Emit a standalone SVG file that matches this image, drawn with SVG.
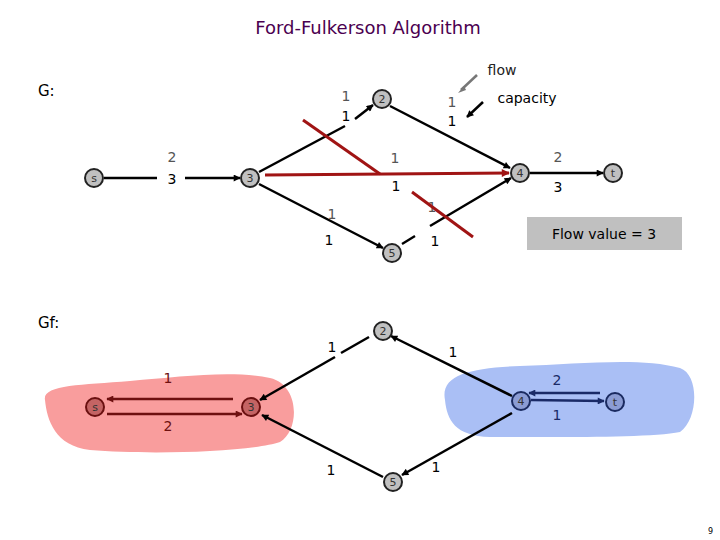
<svg xmlns="http://www.w3.org/2000/svg" width="720" height="540" viewBox="0 0 720 540">
<style>
text{font-family:"DejaVu Sans","Liberation Sans",sans-serif;}
.lbl{font-size:14px;text-anchor:middle;}
.g{fill:#555;}
.k{fill:#000;}
.nd{fill:#c0c0c0;stroke:#222;stroke-width:2;}
.ndr{fill:#c46464;stroke:#6a1010;stroke-width:2;}
.ndb{fill:#8b9cd4;stroke:#1a2a60;stroke-width:2;}
.nt{font-size:11px;text-anchor:middle;fill:#333;}
.e{stroke:#000;stroke-width:2.5;fill:none;}
.er{stroke:#a01414;stroke-width:3;fill:none;}
.ed{stroke:#6e1010;stroke-width:2.5;fill:none;}
.en{stroke:#1a2a66;stroke-width:2.5;fill:none;}
</style>
<defs>
<marker id="ak" viewBox="0 0 10 10" refX="9" refY="5" markerWidth="9" markerHeight="7" markerUnits="userSpaceOnUse" orient="auto"><path d="M0,0L10,5L0,10z" fill="#000"/></marker>
<marker id="ar" viewBox="0 0 10 10" refX="9" refY="5" markerWidth="10" markerHeight="8" markerUnits="userSpaceOnUse" orient="auto"><path d="M0,0L10,5L0,10z" fill="#a01414"/></marker>
<marker id="ad" viewBox="0 0 10 10" refX="9" refY="5" markerWidth="9" markerHeight="7" markerUnits="userSpaceOnUse" orient="auto"><path d="M0,0L10,5L0,10z" fill="#6e1010"/></marker>
<marker id="an" viewBox="0 0 10 10" refX="9" refY="5" markerWidth="9" markerHeight="7" markerUnits="userSpaceOnUse" orient="auto"><path d="M0,0L10,5L0,10z" fill="#1a2a66"/></marker>
</defs>
<rect width="720" height="540" fill="#fff"/>
<text x="368" y="34" font-size="18" text-anchor="middle" fill="#4b0050">Ford-Fulkerson Algorithm</text>
<text x="38" y="96" font-size="15" fill="#000">G:</text>
<text x="38" y="328" font-size="15" fill="#000">Gf:</text>
<text x="708" y="534" font-size="8" fill="#000">9</text>

<!-- blobs -->
<path d="M45,400 C42,385 80,385 130,381 C180,377 230,370 270,378 C300,385 300,430 280,442 C250,452 150,455 90,450 C55,446 47,420 45,400 Z" fill="#f99d9d"/>
<path d="M445,400 C440,375 470,368 520,366 C580,364 640,357 680,368 C700,375 698,420 680,432 C650,438 560,437 490,437 C455,436 447,420 445,400 Z" fill="#aabff5"/>

<g id="connectors">
<!-- top graph -->
<line class="e" x1="104" y1="178" x2="157" y2="178"/>
<line class="e" x1="185" y1="178" x2="240" y2="178" marker-end="url(#ak)"/>
<line class="e" x1="259" y1="172" x2="345" y2="126"/>
<line class="e" x1="355" y1="119" x2="373" y2="105" marker-end="url(#ak)"/>
<line class="e" x1="390" y1="106" x2="510" y2="168" marker-end="url(#ak)"/>
<line class="e" x1="259" y1="184" x2="383" y2="248" marker-end="url(#ak)"/>
<line class="e" x1="402" y1="244" x2="415" y2="236"/>
<line class="e" x1="430" y1="226" x2="511" y2="178" marker-end="url(#ak)"/>
<line class="e" x1="530" y1="173" x2="603" y2="173" marker-end="url(#ak)"/>
<line class="er" x1="265" y1="175" x2="509" y2="173" marker-end="url(#ar)"/>
<line class="er" x1="303" y1="120" x2="380" y2="174"/>
<line stroke="#777" stroke-width="2.5" x1="477" y1="75" x2="461" y2="90"/>
<path d="M464,86 L458,93 L466,90 z" fill="#777"/>
<line class="e" x1="483" y1="102" x2="467" y2="117" marker-end="url(#ak)"/>
<!-- Gf -->
<line class="ed" x1="233" y1="399" x2="107" y2="399" marker-end="url(#ad)"/>
<line class="ed" x1="107" y1="414" x2="242" y2="414" marker-end="url(#ad)"/>
<line class="e" x1="369" y1="337" x2="341" y2="353"/>
<line class="e" x1="335" y1="357" x2="260" y2="400" marker-end="url(#ak)"/>
<line class="e" x1="383" y1="477" x2="262" y2="415" marker-end="url(#ak)"/>
<line class="e" x1="512" y1="396" x2="391" y2="336" marker-end="url(#ak)"/>
<line class="e" x1="512" y1="413" x2="402" y2="475" marker-end="url(#ak)"/>
<line class="en" x1="600" y1="393" x2="529" y2="393" marker-end="url(#an)"/>
<line class="en" x1="531" y1="400" x2="604" y2="401" marker-end="url(#an)"/>
</g>

<!-- top labels -->
<text class="lbl g" x="172" y="162">2</text>
<text class="lbl k" x="172" y="184">3</text>
<text class="lbl g" x="346" y="101">1</text>
<text class="lbl k" x="346" y="121">1</text>
<text class="lbl g" x="452" y="107">1</text>
<text class="lbl k" x="452" y="126">1</text>
<text class="lbl g" x="395" y="163">1</text>
<text class="lbl k" x="396" y="191">1</text>
<text class="lbl g" x="332" y="219">1</text>
<text class="lbl k" x="329" y="245">1</text>
<text class="lbl g" x="432" y="212">1</text>
<line class="er" x1="412" y1="192" x2="473" y2="237"/>
<text class="lbl k" x="435" y="246">1</text>
<text class="lbl g" x="558" y="162">2</text>
<text class="lbl k" x="558" y="192">3</text>
<text x="502" y="75" font-size="14" text-anchor="middle" fill="#222">flow</text>
<text x="527" y="103" font-size="14" text-anchor="middle" fill="#000">capacity</text>

<g id="flowvalue">
<rect x="527" y="217" width="155" height="33" fill="#c0c0c0"/>
<text x="604" y="239" font-size="14" text-anchor="middle" fill="#000">Flow value = 3</text>
</g>

<!-- Gf labels -->
<text class="lbl" x="168" y="383" fill="#6e1010">1</text>
<text class="lbl" x="168" y="431" fill="#6e1010">2</text>
<text class="lbl k" x="332" y="352">1</text>
<text class="lbl k" x="331" y="475">1</text>
<text class="lbl k" x="453" y="357">1</text>
<text class="lbl k" x="436" y="472">1</text>
<text class="lbl" x="557" y="385" fill="#1a2a66">2</text>
<text class="lbl" x="557" y="420" fill="#1a2a66">1</text>

<!-- top nodes -->
<g id="G_s"><circle class="nd" cx="94" cy="178" r="9"/><text class="nt" x="94" y="182">s</text></g>
<g id="G_3"><circle class="nd" cx="250" cy="178" r="9"/><text class="nt" x="250" y="182">3</text></g>
<g id="G_2"><circle class="nd" cx="382" cy="99" r="9"/><text class="nt" x="382" y="103">2</text></g>
<g id="G_4"><circle class="nd" cx="520" cy="173" r="9"/><text class="nt" x="520" y="177">4</text></g>
<g id="G_t"><circle class="nd" cx="613" cy="173" r="9"/><text class="nt" x="613" y="177">t</text></g>
<g id="G_5"><circle class="nd" cx="392" cy="253" r="9"/><text class="nt" x="392" y="257">5</text></g>

<!-- Gf nodes -->
<g id="Gf_s"><circle class="ndr" cx="95" cy="407" r="9"/><text class="nt" x="95" y="411" fill="#5a1010">s</text></g>
<g id="Gf_3"><circle class="ndr" cx="251" cy="407" r="9"/><text class="nt" x="251" y="411">3</text></g>
<g id="Gf_2"><circle class="nd" cx="383" cy="331" r="9"/><text class="nt" x="383" y="335">2</text></g>
<g id="Gf_4"><circle class="ndb" cx="521" cy="401" r="9"/><text class="nt" x="521" y="405">4</text></g>
<g id="Gf_t"><circle class="ndb" cx="615" cy="402" r="9"/><text class="nt" x="615" y="406">t</text></g>
<g id="Gf_5"><circle class="nd" cx="393" cy="482" r="9"/><text class="nt" x="393" y="486">5</text></g>
</svg>
